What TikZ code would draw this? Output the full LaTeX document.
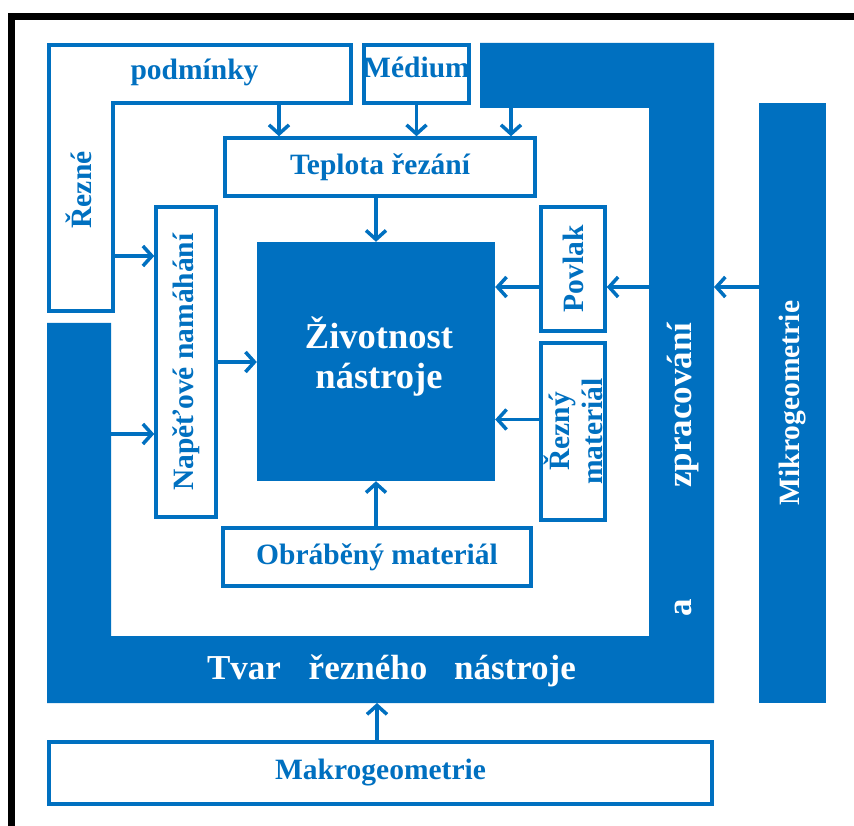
\documentclass[tikz,border=0pt]{standalone}
\usepackage{fontspec}
\setmainfont{Liberation Serif}
\usetikzlibrary{arrows.meta,positioning}
\definecolor{modra}{RGB}{0,112,192}
\newcommand{\pismo}{\fontsize{29.5}{33}\selectfont\bfseries}
\newcommand{\velke}{\fontsize{35}{40}\selectfont\bfseries}

\begin{document}
\begin{tikzpicture}[x=1pt, y=-1pt,
  box/.style={draw=modra, line width=3.5pt, fill=white, text=modra, font=\pismo, inner sep=0pt},
  tmave/.style={fill=modra, text=white, font=\pismo, inner sep=0pt},
  popis/.style={font=\pismo, inner sep=0pt},
  sipka/.style={modra, line width=3.5pt, -{Straight Barb[length=9pt,width=20pt]}}]
\useasboundingbox (0,0) rectangle (854,826);
\draw[line width=7pt] (11.5,840) -- (11.5,16.5) -- (870,16.5);
\draw[modra, line width=3.5pt, fill=white] (49,45) -- (351,45) -- (351,103) -- (113,103) -- (113,311) -- (49,311) -- cycle;
\node[popis, text=modra, rotate=90] (rezne) at (79,190) {Řezné};
\node[popis, text=modra, anchor=base] (podminky) at (194.5,80) {podmínky};
\coordinate (rp1) at (279,103);
\coordinate (rp2) at (113,256);
\fill[modra] (480,43) -- (714,43) -- (714,703) -- (47,703) -- (47,323) -- (111,323) -- (111,636)
  -- (649,636) -- (649,108) -- (480,108) -- cycle;
\node[popis, font=\velke, text=white, anchor=base] (tvar) at (391.5,679) {Tvar\hspace{19pt} řezného\hspace{18pt} nástroje};
\node[popis, font=\velke, text=white, rotate=90] (zprac) at (683,405) {zpracování};
\node[popis, font=\velke, text=white, rotate=90] (a) at (683,608) {a};
\coordinate (zp1) at (511,108);
\coordinate (zp2) at (649,287);
\coordinate (zp3) at (714,287);
\coordinate (tv1) at (111,434);
\coordinate (tv2) at (377,703);
\node[tmave, rotate=90, minimum width=600, minimum height=67] (mikro) at (792.5,403) {Mikrogeometrie};
\node[box, minimum width=105, minimum height=58] (medium) at (416.5,74) {};
\node[popis, text=modra, anchor=base] at (416.5,78) {Médium};
\node[box, minimum width=310, minimum height=58] (teplota) at (380,167) {Teplota řezání};
\node[box, rotate=90, minimum width=310, minimum height=60] (napeti) at (186,362) {Napěťové namáhání};
\node[tmave, minimum width=238, minimum height=239] (zivot) at (376,361.5) {};
\node[popis, text=white, align=center, font=\fontsize{36.5}{40}\selectfont\bfseries] at (379,357) {Životnost\\nástroje};
\node[box, rotate=90, minimum width=124, minimum height=64] (povlak) at (573,269) {Povlak};
\node[box, rotate=90, minimum width=177, minimum height=64, align=center] (rezmat) at (573,431.5) {Řezný\\materiál};
\node[box, minimum width=308, minimum height=58] (obrab) at (377,557) {Obráběný materiál};
\node[box, minimum width=663, minimum height=62] (makro) at (380.5,773) {Makrogeometrie};
\draw[sipka] (rp1) -- (rp1 |- teplota.north);
\draw[sipka] (medium.south) -- (medium.south |- teplota.north);
\draw[sipka] (zp1) -- (zp1 |- teplota.north);
\draw[sipka] (zivot.north |- teplota.south) -- (zivot.north);
\draw[sipka] (rp2) -- (rp2 -| napeti.north);
\draw[sipka] (tv1) -- (tv1 -| napeti.north);
\draw[sipka] (napeti.south) -- (napeti.south -| zivot.west);
\draw[sipka] (povlak.north |- zp2) -- (zp2 -| zivot.east);
\draw[sipka] (zp2) -- (zp2 -| povlak.south);
\draw[sipka] (mikro.north |- zp3) -- (zp3);
\draw[sipka] ([yshift=12pt]rezmat.north) -- ([yshift=12pt]rezmat.north -| zivot.east);
\draw[sipka] (zivot.south |- obrab.north) -- (zivot.south);
\draw[sipka] (tv2 |- makro.north) -- (tv2);
\end{tikzpicture}
\end{document}
